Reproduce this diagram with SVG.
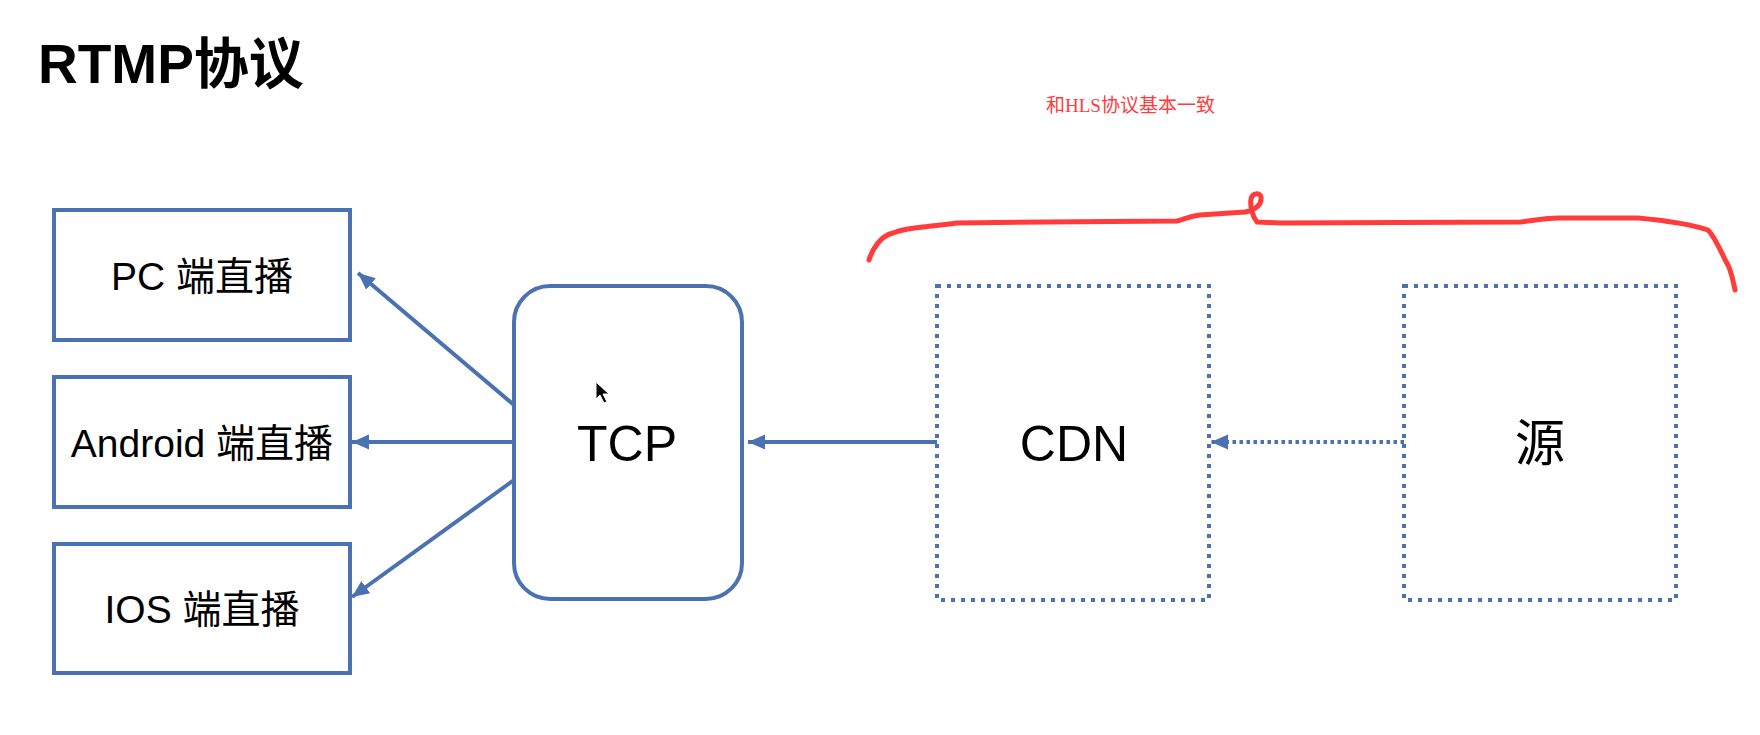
<svg xmlns="http://www.w3.org/2000/svg" width="1760" height="735" viewBox="0 0 1760 735">
<style>
.box{fill:#fff;stroke:#4a71b1;stroke-width:4}
.dot{fill:#fff;stroke:#4a71b1;stroke-width:4;stroke-dasharray:4 6}
.lbl{font-family:"Liberation Sans","Noto Sans CJK SC",sans-serif;font-size:39px;fill:#000;text-anchor:middle}
.big{font-family:"Liberation Sans","Noto Sans CJK SC",sans-serif;font-size:50px;fill:#000;text-anchor:middle}
.edge{fill:none;stroke:#4a71b1;stroke-width:4}
</style>
<defs>
<marker id="ah" markerUnits="userSpaceOnUse" markerWidth="18" markerHeight="16" refX="17" refY="7.5" orient="auto">
<path d="M0,0 L17,7.5 L0,15 Z" fill="#4a71b1"/>
</marker>
</defs>
<rect width="1760" height="735" fill="#fff"/>
<text x="38" y="83" font-family="Liberation Sans,Noto Sans CJK SC,sans-serif" font-size="55" font-weight="bold" fill="#000">RTMP协议</text>
<text x="1046" y="112" font-family="Liberation Serif,Noto Sans CJK SC,serif" font-size="19" fill="#ff3b3b">和HLS协议基本一致</text>
<path d="M869,260 C872,250 880,236 893,233 C905,228 916,228 957,223 L1045,222 L1177,221 C1185,219 1190,216 1200,215 L1245,212 C1256,210 1262,204 1261,197 C1260,192 1252,193 1251,199 C1250,206 1252,216 1257,222 L1280,223 L1521,222 C1535,220 1545,218 1560,218 L1638,218 C1660,220 1690,224 1708,230 C1716,238 1722,255 1729,267 C1733,278 1734,285 1735,290" fill="none" stroke="#ff3b3b" stroke-width="5" stroke-linecap="round" stroke-linejoin="round"/>
<g id="connectors">
<line class="edge" x1="514" y1="405" x2="358" y2="273" marker-end="url(#ah)"/>
<line class="edge" x1="514" y1="442" x2="352" y2="442" marker-end="url(#ah)"/>
<line class="edge" x1="514" y1="480" x2="352" y2="597" marker-end="url(#ah)"/>
<line class="edge" x1="937" y1="442" x2="748" y2="442" marker-end="url(#ah)"/>
<line class="edge" x1="1404" y1="442" x2="1211" y2="442" stroke-dasharray="3.5 3.5" marker-end="url(#ah)"/>
</g>
<g id="pc"><rect class="box" x="54" y="210" width="296" height="130"/><text class="lbl" x="202" y="290">PC 端直播</text></g>
<g id="android"><rect class="box" x="54" y="377" width="296" height="130"/><text class="lbl" x="202" y="457">Android 端直播</text></g>
<g id="ios"><rect class="box" x="54" y="544" width="296" height="129"/><text class="lbl" x="202" y="623">IOS 端直播</text></g>
<g id="tcp"><rect class="box" x="514" y="286" width="228" height="313" rx="36"/><text class="big" x="627" y="461">TCP</text></g>
<g id="cdn"><rect class="dot" x="937" y="286" width="272" height="314"/><text class="big" x="1074" y="461">CDN</text></g>
<g id="source"><rect class="dot" x="1404" y="286" width="272" height="314"/><text class="big" x="1540" y="461">源</text></g>
<path d="M596,382 L596,399 L600,395 L604,403 L607,402 L603,394 L609,394 Z" fill="#000" stroke="#fff" stroke-width="1"/>
</svg>
